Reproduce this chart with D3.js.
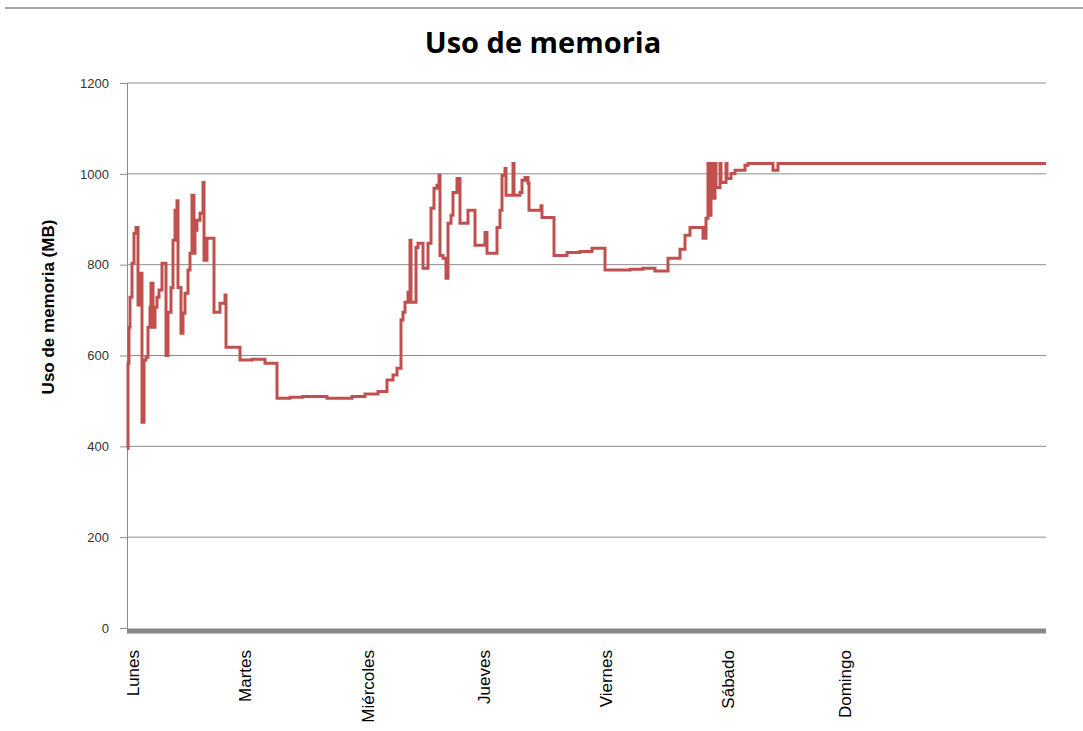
<!DOCTYPE html>
<html>
<head>
<meta charset="utf-8">
<title>Uso de memoria</title>
<script src="https://cdn.jsdelivr.net/npm/d3@7"></script>
<style>
  body { margin: 0; background: #fff; }
  text { font-family: "Liberation Sans", Arial, sans-serif; }
</style>
</head>
<body>
<script>
/**
  Step chart of memory use (MB) during one week
*/

// sample number (x) and memory use in MB (y)
var muestras = [0, 1, 2, 3, 5, 7, 9, 11, 13, 15, 17, 19, 21, 23, 24, 26, 28, 30, 32, 35,
  39, 41, 44, 46, 48, 50, 51, 54, 56, 58, 61, 63, 65, 67, 68, 70, 73, 76, 77, 80,
  87, 93, 98, 99, 113, 125, 138, 150, 163, 176, 200, 225, 238, 251, 260, 266, 270,
  274, 276, 278, 281, 283, 284, 289, 291, 296, 301, 304, 307, 310, 312, 313, 316,
  319, 321, 324, 326, 330, 333, 341, 348, 358, 360, 370, 373, 375, 378, 379, 386,
  387, 393, 395, 398, 401, 402, 414, 415, 427, 440, 453, 465, 478, 503, 516, 528,
  541, 553, 558, 563, 576, 579, 581, 582, 584, 585, 588, 589, 593, 594, 599, 600,
  604, 608, 615, 618, 621, 646, 651, 919];
var memoriaMB = [395, 583, 662, 728, 803, 869, 882, 711, 781, 453, 590, 596, 662, 706, 759, 662, 706, 728, 744, 803,
  600, 695, 750, 854, 920, 941, 750, 649, 693, 737, 788, 825, 953, 825, 876, 898, 913, 981, 810, 858,
  695, 715, 733, 618, 590, 592, 583, 506, 508, 510, 506, 510, 515, 521, 546, 557, 572,
  678, 695, 717, 739, 854, 717, 838, 847, 792, 847, 924, 968, 975, 997, 820, 814,
  770, 891, 909, 959, 990, 891, 920, 843, 871, 825, 882, 920, 997, 1012, 953, 1023,
  953, 959, 986, 992, 979, 920, 930, 904, 820, 827, 829, 836, 788, 790, 792, 786,
  814, 834, 865, 882, 858, 902, 1023, 909, 1023, 946, 1023, 970, 1023, 981, 1023, 990,
  1001, 1008, 1008, 1019, 1023, 1008, 1023, 1023];

// category labels and the sample where each one sits
var dias = ["Lunes", "Martes", "Miércoles", "Jueves", "Viernes", "Sábado", "Domingo"];
var posDias = [6, 118, 241, 357, 479, 601, 718];

var yTicks = [0, 200, 400, 600, 800, 1000, 1200];

var width = 1083, height = 731;
var margin = {top: 83, right: 37, bottom: 103, left: 127};

var svg = d3.select("body").append("svg")
    .attr("width", width)
    .attr("height", height);

var x = d3.scaleLinear().domain([0, 919]).range([margin.left, width - margin.right]);
var y = d3.scaleLinear().domain([0, 1200]).range([height - margin.bottom, margin.top]);

// thin rule at the top of the picture
svg.append("line")
    .attr("x1", 5).attr("x2", width)
    .attr("y1", 8).attr("y2", 8)
    .style("stroke", "#a6a6a6")
    .style("stroke-width", 2);

// title
svg.append("text")
    .attr("x", 543)
    .attr("y", 53)
    .attr("text-anchor", "middle")
    .style("font-family", "'Open Sans', sans-serif")
    .style("font-size", "29px")
    .style("font-weight", "bold")
    .text("Uso de memoria");

// gridlines
svg.append("g")
  .selectAll("line")
  .data(yTicks.filter(function(d) { return d > 0; }))
  .enter().append("line")
    .attr("x1", x(0)).attr("x2", x(919))
    .attr("y1", function(d) { return y(d); })
    .attr("y2", function(d) { return y(d); })
    .style("stroke", "#8c8c8c")
    .style("stroke-width", 1);

// y-axis
var yAxis = svg.append("g")
    .attr("transform", "translate(" + margin.left + ",0)")
    .call(d3.axisLeft(y).tickValues(yTicks).tickFormat(d3.format("d")).tickSize(7).tickPadding(11));
yAxis.select(".domain").style("stroke", "#8c8c8c");
yAxis.selectAll(".tick line").style("stroke", "#8c8c8c");
yAxis.selectAll(".tick text")
    .style("font-size", "13px")
    .style("fill", "#333");

svg.append("text")
    .attr("transform", "translate(54," + 307 + ") rotate(-90)")
    .attr("text-anchor", "middle")
    .style("font-size", "17px")
    .style("font-weight", "bold")
    .text("Uso de memoria (MB)");

// thick category axis
svg.append("line")
    .attr("x1", x(0)).attr("x2", x(919))
    .attr("y1", y(0) + 3).attr("y2", y(0) + 3)
    .style("stroke", "#878787")
    .style("stroke-width", 5);

// day labels, rotated
svg.append("g")
  .selectAll("text")
  .data(dias)
  .enter().append("text")
    .attr("transform", function(d, i) {
      return "translate(" + x(posDias[i]) + ",650) rotate(-90)";
    })
    .attr("dy", "0.35em")
    .attr("text-anchor", "end")
    .style("font-size", "17px")
    .text(function(d) { return d; });

// memory line
var data = muestras.map(function(t, i) { return {t: t, mb: memoriaMB[i]}; });

var line = d3.line()
    .x(function(d) { return x(d.t); })
    .y(function(d) { return y(d.mb); })
    .curve(d3.curveStepAfter);

svg.append("path")
    .datum(data)
    .attr("d", line)
    .style("fill", "none")
    .style("stroke", "#c0504d")
    .style("stroke-width", 3);
</script>
</body>
</html>
